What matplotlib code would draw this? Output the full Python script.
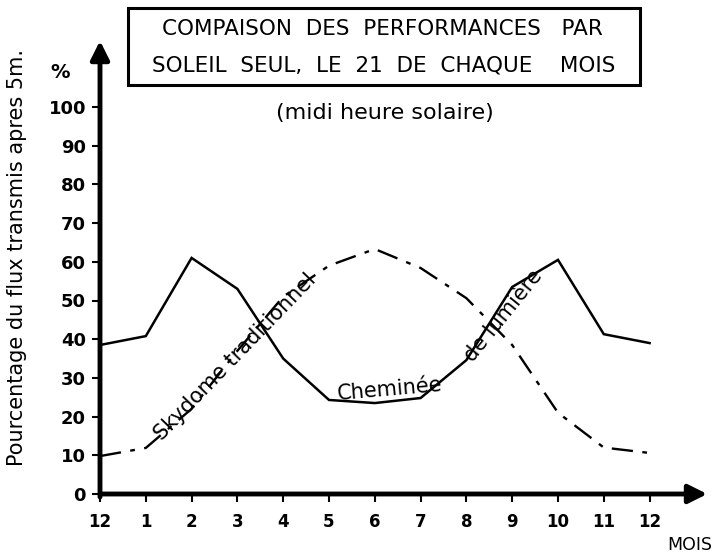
import numpy as np
import matplotlib
matplotlib.use("Agg")
import matplotlib.pyplot as plt
from matplotlib.patches import Rectangle

# mois du 21 decembre au 21 decembre
mois = ['12', '1', '2', '3', '4', '5', '6', '7', '8', '9', '10', '11', '12']
cheminee = [38.5, 40.8, 61, 53, 35, 24.3, 23.5, 24.8, 34.6, 53.5, 60.5, 41.3, 39]
skydome = [9.8, 11.9, 22, 37, 51, 59, 63.3, 58.4, 50.6, 38.5, 21, 12, 10.6]

x = np.arange(len(mois))

fig = plt.figure(figsize=(7.2, 5.57), dpi=100)
ax = fig.add_axes([100/720, 1-494/557, 610/720, 456/557])
ax.set_xlim(0, 610/45.8)
ax.set_ylim(0, 456/3.87)

for s in ax.spines.values():
    s.set_visible(False)

# axes avec fleches
ax.annotate('', xy=(0, 456/3.87), xytext=(0, -1.5),
            arrowprops=dict(arrowstyle='-|>', lw=3.5, mutation_scale=28, color='black'),
            annotation_clip=False)
ax.annotate('', xy=(610/45.8, 0), xytext=(-0.05, 0),
            arrowprops=dict(arrowstyle='-|>', lw=3.5, mutation_scale=28, color='black'),
            annotation_clip=False)

ax.plot(x, cheminee, color='black', lw=1.8, solid_joinstyle='miter')
ax.plot(x, skydome, color='black', lw=1.7, linestyle=(0, (9, 4, 2, 4)))

ax.set_xticks(x)
ax.set_xticklabels(mois, fontsize=12, fontweight='bold')
ax.set_yticks(np.arange(0, 101, 10))
ax.set_yticklabels([str(v) for v in range(0, 101, 10)], fontsize=13, fontweight='bold')
ax.tick_params(axis='both', length=6, width=1.5, direction='out', pad=4)
ax.tick_params(axis='x', pad=8)

ax.text(-0.87, 109, '%', fontsize=14, fontweight='bold', ha='center', va='center')
ax.text(12.88, -13.2, 'MOIS', fontsize=12.5, ha='center', va='center', clip_on=False)

# noms des courbes, poses sur les traits
ax.text(2.95, 35.5, 'Skydome traditionnel', fontsize=15, rotation=46,
        ha='center', va='center', rotation_mode='anchor')
ax.text(6.33, 27.0, 'Cheminée', fontsize=15, rotation=5,
        ha='center', va='center', rotation_mode='anchor')
ax.text(8.8, 46.0, 'de lumière', fontsize=15, rotation=51,
        ha='center', va='center', rotation_mode='anchor')

fig.text(17/720, 1-258/557, 'Pourcentage du flux transmis apres 5m.', fontsize=15,
         rotation=90, ha='center', va='center')

# cadre du titre
fig.patches.append(Rectangle((128/720, 1-85/557), 512/720, 77/557, transform=fig.transFigure,
                             fill=False, lw=2.2, edgecolor='black'))
fig.text(382/720, 1-29/557, 'COMPAISON  DES  PERFORMANCES   PAR', fontsize=15.5,
         ha='center', va='center')
fig.text(384/720, 1-65/557, 'SOLEIL  SEUL,  LE  21  DE  CHAQUE    MOIS', fontsize=15.5,
         ha='center', va='center')
fig.text(385/720, 1-113/557, '(midi heure solaire)', fontsize=16,
         ha='center', va='center')

plt.savefig('out.png', dpi=100)
